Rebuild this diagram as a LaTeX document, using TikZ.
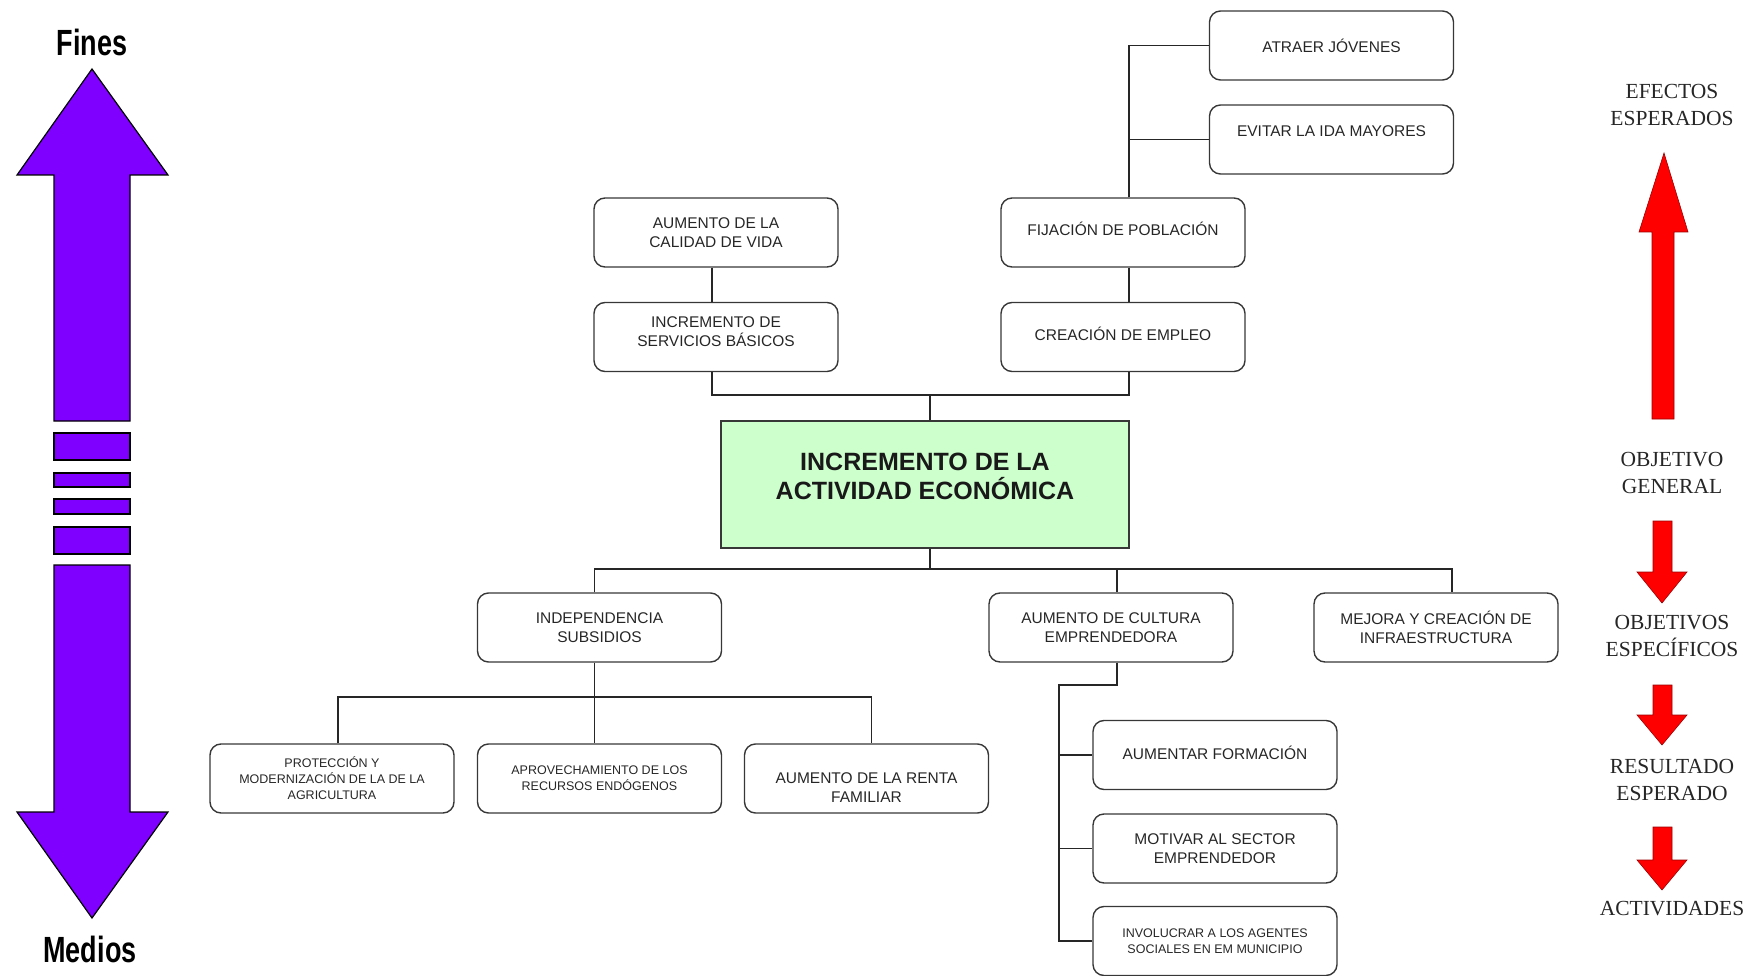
\documentclass[tikz,border=0pt]{standalone}
\usepackage{fontspec}
\setmainfont{Liberation Serif}
\setsansfont{Liberation Sans}
\usepackage{graphicx}
\definecolor{purp}{RGB}{127,0,255}
\definecolor{mint}{RGB}{204,255,204}
\definecolor{boxline}{RGB}{55,55,55}
\newcommand\xdep[1]{\rule[-#1]{0pt}{#1}}
\newcommand\xhgt[1]{\rule{0pt}{#1}}
\tikzset{
 box/.style={draw=boxline, line width=1.4pt, rounded corners=11pt, minimum width=244pt, minimum height=69pt, align=center, inner sep=2pt, font=\sffamily\fontsize{15.5}{19}\selectfont, text=black!85},
 sbox/.style={box, font=\sffamily\fontsize{12.5}{16}\selectfont},
 conn/.style={line width=1.4pt, draw=black!85},
 lbl/.style={font=\rmfamily\fontsize{21.5}{27}\selectfont, align=center, text=black!85},
 redarr/.style={fill=red, draw=red!60!black, line width=0.6pt},
 purparr/.style={fill=purp, draw=black, line width=1.2pt},
}
\begin{document}
\begin{tikzpicture}[x=1pt,y=-1pt]
\useasboundingbox (0,0) rectangle (1751,976);
% left purple arrow
\node (fines) at (92,42) {\scalebox{1}[1.35]{\sffamily\bfseries\fontsize{27}{27}\selectfont Fines}};
\node (medios) at (90,949) {\scalebox{1}[1.35]{\sffamily\bfseries\fontsize{27}{27}\selectfont Medios}};
\draw[purparr] (92,69) -- (168,175) -- (130,175) -- (130,421) -- (54,421) -- (54,175) -- (17,175) -- cycle;
\draw[purparr] (54,433) rectangle (130,460);
\draw[purparr] (54,473) rectangle (130,487);
\draw[purparr] (54,499) rectangle (130,514);
\draw[purparr] (54,527) rectangle (130,554);
\draw[purparr] (54,565) -- (130,565) -- (130,812) -- (168,812) -- (92,918) -- (17,812) -- (54,812) -- cycle;

% top boxes
\node[box] (atraer) at (1331.5,45.5) {ATRAER JÓVENES};
\node[box] (evitar) at (1331.5,139.5) {EVITAR LA IDA MAYORES\xdep{16pt}};
\node[box] (calidad) at (716,232.5) {AUMENTO DE LA\\CALIDAD DE VIDA};
\node[box] (servicios) at (716,337) {INCREMENTO DE\\SERVICIOS BÁSICOS\xdep{11pt}};
\node[box] (fijacion) at (1123,232.5) {FIJACIÓN DE POBLACIÓN\xdep{7pt}};
\node[box] (empleo) at (1123,337) {CREACIÓN DE EMPLEO\xdep{7pt}};

% central
\node[draw=boxline, line width=1.6pt, fill=mint, minimum width=408pt, minimum height=127pt, align=center, text=black!90, font=\sffamily\bfseries\fontsize{25}{29}\selectfont] (central) at (925,484.5) {INCREMENTO DE LA\\ACTIVIDAD ECONÓMICA\xdep{16pt}};

% second level
\node[box] (indep) at (599.5,627.5) {INDEPENDENCIA\\SUBSIDIOS};
\node[box] (cultura) at (1111,627.5) {AUMENTO DE CULTURA\\EMPRENDEDORA};
\node[box] (mejora) at (1436,627.5) {MEJORA Y CREACIÓN DE\\INFRAESTRUCTURA};

% third level
\node[sbox] (proteccion) at (332,778.5) {PROTECCIÓN Y\\MODERNIZACIÓN DE LA  DE LA\\AGRICULTURA};
\node[sbox] (aprovech) at (599.5,778.5) {APROVECHAMIENTO DE LOS\\RECURSOS ENDÓGENOS};
\node[box] (renta) at (866.5,778.5) {\xhgt{29pt}AUMENTO DE LA RENTA\\FAMILIAR};
\node[box] (formacion) at (1215,755) {AUMENTAR FORMACIÓN\xdep{5pt}};
\node[box] (motivar) at (1215,848.5) {MOTIVAR AL SECTOR\\EMPRENDEDOR};
\node[sbox] (involucrar) at (1215,941) {INVOLUCRAR A LOS AGENTES\\SOCIALES EN EM MUNICIPIO};

% connectors top
\coordinate (ft) at ([xshift=6pt]fijacion.north);
\coordinate (fb) at ([xshift=6pt]fijacion.south);
\coordinate (et) at ([xshift=6pt]empleo.north);
\coordinate (eb) at ([xshift=6pt]empleo.south);
\draw[conn] (ft) |- (atraer.west);
\draw[conn] (ft |- evitar.west) -- (evitar.west);
\draw[conn] (fb) -- (et);
\draw[conn] ([xshift=-4pt]calidad.south) -- ([xshift=-4pt]servicios.north);
\coordinate (j1) at (930,395);
\draw[conn] ([xshift=-4pt]servicios.south) |- (j1) -| (eb);
\draw[conn] (j1 |- central.north) -- (j1);

% connectors bottom
\coordinate (j2) at (930,569);
\draw[conn] (j2 |- central.south) -- (j2);
\draw[conn] ([xshift=-5pt]indep.north) |- (j2) -| ([xshift=16pt]mejora.north);
\draw[conn] (j2) -| ([xshift=6pt]cultura.north);
\coordinate (j3) at (594.5,697);
\draw[conn] ([xshift=-5pt]indep.south) -- ([xshift=-5pt]aprovech.north);
\draw[conn] ([xshift=6pt]proteccion.north) |- (j3) -| ([xshift=5pt]renta.north);
\coordinate (k) at (1059,685);
\draw[conn] ([xshift=6pt]cultura.south) |- (k) -- (k |- involucrar.west) -- (involucrar.west);
\draw[conn] (k |- formacion.west) -- (formacion.west);
\draw[conn] (k |- motivar.west) -- (motivar.west);

% right side
\node[lbl] (efectos) at (1672,105) {EFECTOS\\ESPERADOS};
\node[lbl] (objgen) at (1672,473) {OBJETIVO\\GENERAL};
\node[lbl] (objesp) at (1672,635.5) {OBJETIVOS\\ESPECÍFICOS};
\node[lbl] (result) at (1672,779.5) {RESULTADO\\ESPERADO};
\node[lbl] (activ) at (1672,909) {ACTIVIDADES};
\draw[redarr] (1664,153) -- (1688,232) -- (1674,232) -- (1674,419) -- (1652,419) -- (1652,232) -- (1639,232) -- cycle;
\foreach \t/\b/\p in {521/572/603, 685/715/745, 827/860/890}
  \draw[redarr] (1653,\t) -- (1672,\t) -- (1672,\b) -- (1687,\b) -- (1662,\p) -- (1637,\b) -- (1653,\b) -- cycle;
\end{tikzpicture}
\end{document}
